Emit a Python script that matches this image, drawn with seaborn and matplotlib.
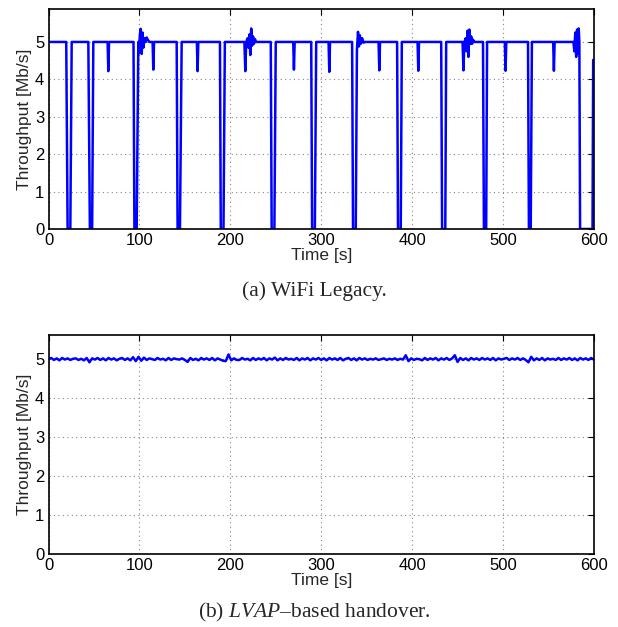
import numpy as np
import pandas as pd
import matplotlib
matplotlib.use("Agg")
import matplotlib.pyplot as plt
import seaborn as sns

# (a) WiFi Legacy: polyline vertices (time s, throughput Mb/s)
wifi_time = [0, 19.5, 21, 24, 25.5,
             43.8, 45.5, 48, 49.3,
             65, 65.8, 66.6,
             93.5, 94.5, 97, 98.8, 99.5, 100.5, 101.5, 102.5, 103.5, 104.5, 105.5, 107, 108, 109.5, 111,
             114.5, 115.3, 116.1,
             141, 142, 144.6, 146.5,
             163.2, 164, 164.8,
             188.6, 189.5, 192.5, 194,
             215.5, 216.5, 217.5, 219, 220, 221, 222, 223, 224, 225, 226, 227, 228.5,
             244.5, 245.5, 248.5, 250,
             269.2, 270, 270.8,
             289, 290, 293, 294.5,
             308.1, 308.9, 309.7,
             334, 335, 338, 339.3, 340.5, 341.5, 342.5, 343.5, 345, 346.5, 348,
             363.1, 363.9, 364.7,
             383.5, 384.5, 387.5, 388.7,
             406, 406.8, 407.6,
             432, 433, 436.5, 437.5,
             455.5, 456.5, 457.5, 459, 460, 461, 462, 463, 464, 465, 466, 467, 468.5,
             478, 479, 481.5, 482.5,
             502, 502.8, 503.6,
             527.5, 528.5, 530.5, 531.8,
             555.2, 556, 556.8,
             577.5, 578.5, 579.5, 580.5, 581.5, 582.5, 583.3, 584, 584.8, 598.5, 599.2]
wifi_tput = [5, 5, 0, 0, 5,
             5, 0, 0, 5,
             5, 4.22, 5,
             5, 0, 0, 5, 4.7, 5.2, 5.35, 4.68, 5.25, 4.85, 5.1, 5.0, 5.12, 5.05, 5.0,
             5, 4.26, 5,
             5, 0, 0, 5,
             5, 4.22, 5,
             5, 0, 0, 5,
             5, 4.22, 5.0, 5.1, 4.85, 5.2, 4.65, 5.36, 4.9, 5.15, 4.95, 5.08, 5.0,
             5, 0, 0, 5,
             5, 4.26, 5,
             5, 0, 0, 5,
             5, 4.2, 5,
             5, 0, 0, 4.8, 5.27, 4.88, 5.18, 4.95, 5.1, 4.98, 5.0,
             5, 4.24, 5,
             5, 0, 0, 5,
             5, 4.23, 5,
             5, 0, 0, 5,
             5, 4.24, 5.0, 5.1, 4.75, 5.3, 4.6, 5.33, 4.95, 5.15, 4.95, 5.06, 5.0,
             5, 0, 0, 5,
             5, 4.23, 5,
             5, 0, 0, 5,
             5, 4.23, 5,
             5, 4.75, 5.25, 4.6, 5.33, 4.7, 5.36, 5.0, 0, 0, 4.52]

# (b) LVAP-based handover: samples every 3 s
lvap_time = np.arange(0, 601, 3)
lvap_tput = [
    5.00, 5.03, 4.98, 5.02, 4.97, 5.03, 4.99, 5.02, 4.98, 5.01,
    5.02, 4.98, 5.01, 4.97, 5.03, 4.92, 5.02, 4.99, 5.03, 4.98,
    5.02, 4.97, 5.03, 4.99, 5.02, 4.97, 5.01, 5.03, 4.98, 5.02,
    4.97, 5.05, 4.95, 5.06, 4.96, 5.04, 4.98, 5.02, 5.00, 4.98,
    5.03, 4.99, 5.01, 4.97, 5.03, 4.98, 5.02, 5.00, 4.99, 5.02,
    4.98, 4.93, 5.03, 4.98, 5.01, 4.97, 5.03, 4.99, 5.02, 4.98,
    5.03, 4.97, 5.02, 4.99, 4.96, 4.95, 5.12, 4.97, 5.02, 4.98,
    4.98, 5.03, 4.99, 5.01, 4.97, 5.03, 4.98, 5.02, 4.99, 5.03,
    4.97, 5.02, 4.99, 5.04, 4.97, 5.02, 4.98, 5.03, 4.99, 5.01,
    4.98, 5.03, 4.97, 5.02, 4.99, 5.03, 4.97, 5.02, 4.99, 5.03,
    4.98, 5.02, 4.97, 5.03, 4.99, 5.02, 4.98, 5.03, 4.97, 5.01,
    5.03, 4.98, 5.02, 4.97, 5.03, 4.99, 5.02, 4.98, 5.01, 4.99,
    5.02, 4.98, 5.00, 5.02, 4.98, 5.01, 4.99, 5.02, 4.98, 5.01,
    4.99, 5.10, 4.95, 5.02, 4.98, 5.01, 5.00, 4.97, 5.03, 4.98,
    5.02, 4.99, 5.03, 4.97, 5.02, 4.99, 5.03, 4.98, 5.02, 5.10,
    4.93, 5.03, 4.98, 5.02, 4.97, 5.03, 4.99, 5.02, 4.98, 5.03,
    4.99, 5.02, 4.98, 5.03, 4.97, 5.02, 4.99, 5.01, 5.03, 4.98,
    5.02, 4.99, 5.03, 4.98, 5.02, 4.98, 4.92, 5.06, 4.97, 5.02,
    4.98, 5.03, 4.97, 5.02, 4.99, 5.01, 4.98, 5.03, 4.98, 5.02,
    4.99, 5.03, 4.98, 5.02, 4.97, 5.03, 4.99, 5.02, 4.98, 5.03,
    4.99]

x_ticks = [0, 100, 200, 300, 400, 500, 600]
y_ticks = [0, 1, 2, 3, 4, 5]

sns.set_style("white")
plt.rcParams["font.family"] = ["Liberation Sans", "DejaVu Sans"]
plt.rcParams["mathtext.fontset"] = "custom"
plt.rcParams["mathtext.rm"] = "Liberation Serif"
plt.rcParams["mathtext.it"] = "Liberation Serif:italic"

fig = plt.figure(figsize=(6.18, 6.27), dpi=100)
ax1 = fig.add_axes([0.0785, 0.6348, 0.8825, 0.3508])
ax2 = fig.add_axes([0.0785, 0.1164, 0.8825, 0.3493])

df_a = pd.DataFrame({"Time": wifi_time, "Tput": wifi_tput})
df_b = pd.DataFrame({"Time": lvap_time, "Tput": lvap_tput})

sns.lineplot(data=df_a, x="Time", y="Tput", ax=ax1, color="#0000ff",
             linewidth=1.8, estimator=None, sort=False)
sns.lineplot(data=df_b, x="Time", y="Tput", ax=ax2, color="#0000ff",
             linewidth=1.8, estimator=None, sort=False)

for ax, top in [(ax1, 5.88), (ax2, 5.62)]:
    ax.set_xlim(0, 600)
    ax.set_ylim(0, top)
    ax.set_xticks(x_ticks)
    ax.set_yticks(y_ticks)
    ax.grid(True, color="#888888", linestyle=(0, (1, 3)), linewidth=0.8)
    ax.tick_params(direction="in", top=True, right=True, length=4, width=0.8,
                   labelsize=12, pad=3, colors="black")
    for s in ax.spines.values():
        s.set_linewidth(1.2)
        s.set_color("black")
    ax.set_xlabel("Time [s]", fontsize=12.5, labelpad=0)
    ax.set_ylabel("Throughput [Mb/s]", fontsize=12.5, labelpad=2)

fig.text(0.508, 1 - 291 / 627, "(a) WiFi Legacy.", ha="center", va="center",
         fontsize=15.5, family="Liberation Serif")
fig.text(0.508, 1 - 612 / 627, r"(b) $\mathit{LVAP}$–based handover.", ha="center",
         va="center", fontsize=15.5, family="Liberation Serif")

fig.savefig("out.png", dpi=100)
